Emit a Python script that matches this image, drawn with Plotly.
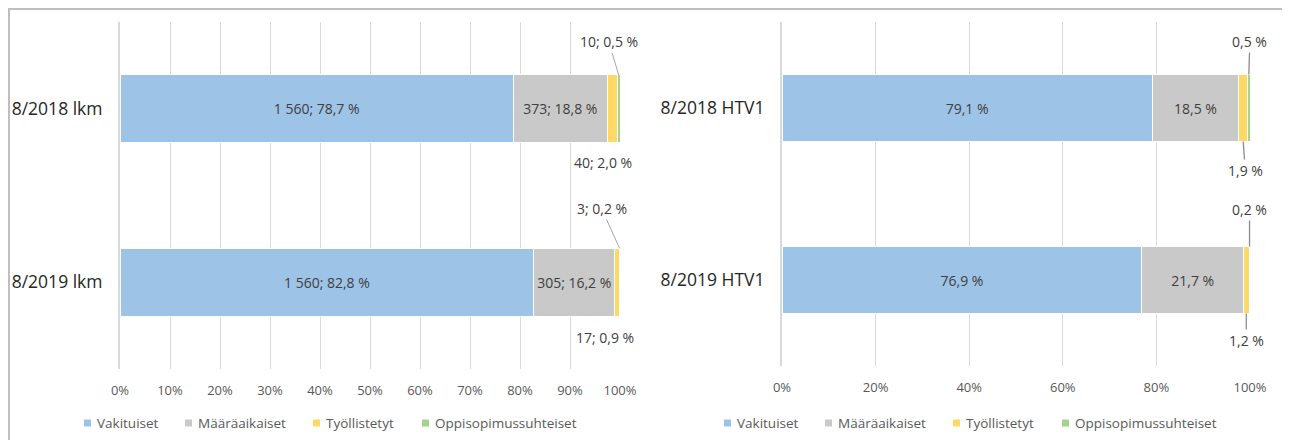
import plotly.graph_objects as go

# ---------------- data ----------------
series_names = ["Vakituiset", "Määräaikaiset", "Työllistetyt", "Oppisopimussuhteiset"]
series_colors = ["#9DC3E6", "#C9C9C9", "#FFD966", "#A9D18E"]

left_categories = ["8/2018 lkm", "8/2019 lkm"]
left_vakituiset = [1560, 1560]
left_maaraaikaiset = [373, 305]
left_tyollistetyt = [40, 17]
left_oppisopimus = [10, 3]

right_categories = ["8/2018 HTV1", "8/2019 HTV1"]
right_vakituiset = [79.1, 76.9]
right_maaraaikaiset = [18.5, 21.7]
right_tyollistetyt = [1.9, 1.2]
right_oppisopimus = [0.5, 0.2]

left_xticks = [0, 10, 20, 30, 40, 50, 60, 70, 80, 90, 100]
right_xticks = [0, 20, 40, 60, 80, 100]

# ---------------- helpers ----------------
FONT = "Open Sans"
LABEL_COLOR = "#404040"
AXIS_TEXT = "#595959"
LABEL_SIZE = 14
BAR_GAP = 0.61
BAR_W = 1 - BAR_GAP


def fi_num(v):
    return f"{v:,}".replace(",", " ")


def fi_pct(p):
    return f"{p:.1f}".replace(".", ",") + " %"


left_series = [left_vakituiset, left_maaraaikaiset, left_tyollistetyt, left_oppisopimus]
right_series = [right_vakituiset, right_maaraaikaiset, right_tyollistetyt, right_oppisopimus]

left_totals = [sum(s[j] for s in left_series) for j in range(len(left_categories))]
left_pcts = [[s[j] / left_totals[j] * 100 for j in range(len(left_categories))] for s in left_series]
left_texts = [[f"{fi_num(s[j])}; {fi_pct(p[j])}" for j in range(len(left_categories))]
              for s, p in zip(left_series, left_pcts)]

right_pcts = right_series
right_texts = [[fi_pct(v) for v in s] for s in right_series]

fig = go.Figure()

ypos_left = list(range(len(left_categories)))
ypos_right = list(range(len(right_categories)))

for i, name in enumerate(series_names):
    inside = i < 2
    fig.add_trace(go.Bar(
        x=left_pcts[i], y=ypos_left, orientation="h", name=name,
        marker=dict(color=series_colors[i], line=dict(color="white", width=1)),
        text=left_texts[i] if inside else None,
        textposition="inside" if inside else "none",
        insidetextanchor="middle", textangle=0,
        textfont=dict(family=FONT, size=LABEL_SIZE, color=LABEL_COLOR),
        xaxis="x", yaxis="y", showlegend=False, hoverinfo="skip",
    ))
    fig.add_trace(go.Bar(
        x=right_pcts[i], y=ypos_right, orientation="h", name=name,
        marker=dict(color=series_colors[i], line=dict(color="white", width=1)),
        text=right_texts[i] if inside else None,
        textposition="inside" if inside else "none",
        insidetextanchor="middle", textangle=0,
        textfont=dict(family=FONT, size=LABEL_SIZE, color=LABEL_COLOR),
        xaxis="x2", yaxis="y2", showlegend=False, hoverinfo="skip",
    ))

# ---------------- page / figure coordinates ----------------
# The page body adds an 8 px margin, so the figure is drawn 8 px smaller and
# all page-pixel positions are converted to figure coordinates.
PAGE_OFF = 8
FW, FH = 1290 - PAGE_OFF, 448 - 2 * PAGE_OFF


def px_x(p):
    return (p - PAGE_OFF) / FW


def px_y(p):
    return 1 - (p - PAGE_OFF) / FH


# ---------------- callout labels for small segments ----------------
def seg_mid(pcts, i, j):
    return sum(pcts[k][j] for k in range(i)) + pcts[i][j] / 2


annotations = []
shapes = []
# (series index, category index, edge, arrow?, dx, dy)  dx/dy: screen px, dy positive = down
left_callouts = [
    (3, 0, "top", True, -10, -33),
    (2, 0, "bottom", False, -9, 20),
    (3, 1, "top", True, -18, -40),
    (2, 1, "bottom", False, -12, 21),
]
right_callouts = [
    (3, 0, "top", True, 1, -33),
    (2, 0, "bottom", True, 2, 29),
    (3, 1, "top", True, 0, -37),
    (2, 1, "bottom", True, 0, 27),
]


def make_callouts(callouts, pcts, texts, xref, yref, color, width):
    out = []
    for (i, j, edge, arrow, dx, dy) in callouts:
        yv = j - BAR_W / 2 if edge == "top" else j + BAR_W / 2
        a = dict(x=seg_mid(pcts, i, j), y=yv, xref=xref, yref=yref, text=texts[i][j],
                 font=dict(family=FONT, size=LABEL_SIZE, color=LABEL_COLOR))
        if arrow:
            a.update(showarrow=True, arrowhead=0, arrowwidth=width, arrowcolor=color,
                     ax=dx, ay=dy, standoff=0)
        else:
            a.update(showarrow=False, xshift=dx, yshift=-dy)
        out.append(a)
    return out


annotations += make_callouts(left_callouts, left_pcts, left_texts, "x", "y", "#A6A6A6", 1)
annotations += make_callouts(right_callouts, right_pcts, right_texts, "x2", "y2", "#8C8C8C", 1.3)

# ---------------- legends (one under each chart, Excel-style small squares) ----------------
legend_square_px = [84, 185, 313, 422]     # page px of each legend square (left chart)
legend_offsets_px = [0, 640]               # left chart, right chart
LEGEND_Y = 423
SQ = 7
for off in legend_offsets_px:
    for name, color, sx in zip(series_names, series_colors, legend_square_px):
        x0 = sx + off
        shapes.append(dict(type="rect", xref="paper", yref="paper",
                           x0=px_x(x0), x1=px_x(x0 + SQ),
                           y0=px_y(LEGEND_Y + SQ / 2), y1=px_y(LEGEND_Y - SQ / 2),
                           fillcolor=color, line=dict(width=0)))
        annotations.append(dict(x=px_x(x0 + SQ + 4), y=px_y(LEGEND_Y), xref="paper", yref="paper",
                                xanchor="left", yanchor="middle", showarrow=False, text=name,
                                font=dict(family=FONT, size=13.5, color=AXIS_TEXT)))

# chart box border (top and left)
shapes += [
    dict(type="line", xref="paper", yref="paper", x0=0, x1=1, y0=1 - 1 / FH, y1=1 - 1 / FH,
         line=dict(color="#BFBFBF", width=2)),
    dict(type="line", xref="paper", yref="paper", x0=1 / FW, x1=1 / FW, y0=0, y1=1,
         line=dict(color="#BFBFBF", width=2)),
]

# ---------------- layout ----------------
xaxis_common = dict(
    range=[0, 100], showgrid=True, gridcolor="#D9D9D9", gridwidth=1,
    zeroline=False, showline=False, ticks="", automargin=False,
    tickfont=dict(family=FONT, size=13, color=AXIS_TEXT),
    ticklabelstandoff=12, fixedrange=True,
)
yaxis_common = dict(
    range=[len(left_categories) - 0.5, -0.5], tickmode="array",
    showgrid=False, zeroline=False, showline=True, linecolor="#D9D9D9", linewidth=2,
    ticks="", tickfont=dict(family=FONT, size=17.5, color="#262626"), automargin=False,
    ticklabelstandoff=12, fixedrange=True,
)

fig.update_layout(
    width=FW, height=FH,
    margin=dict(l=0, r=0, t=0, b=0, autoexpand=False),
    paper_bgcolor="white", plot_bgcolor="white",
    barmode="stack", bargap=BAR_GAP,
    font=dict(family=FONT),
    showlegend=False,
    xaxis=dict(domain=[px_x(120), px_x(620)], anchor="y", tickmode="array",
               tickvals=left_xticks, ticktext=[f"{v}%" for v in left_xticks], **xaxis_common),
    yaxis=dict(domain=[px_y(369), px_y(22)], anchor="x",
               tickvals=ypos_left, ticktext=left_categories, **yaxis_common),
    xaxis2=dict(domain=[px_x(782), px_x(1250)], anchor="y2", tickmode="array",
                tickvals=right_xticks, ticktext=[f"{v}%" for v in right_xticks], **xaxis_common),
    yaxis2=dict(domain=[px_y(366), px_y(22)], anchor="x2",
                tickvals=ypos_right, ticktext=right_categories, **yaxis_common),
    uniformtext=dict(minsize=LABEL_SIZE, mode="show"),
    annotations=annotations,
    shapes=shapes,
)

fig.write_html("out.html")
